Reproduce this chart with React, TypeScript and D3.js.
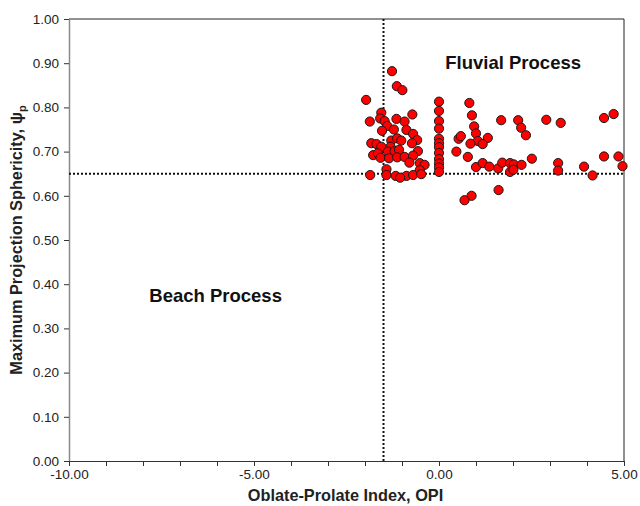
import React, {useEffect, useRef} from "react";
import * as d3 from "d3";

// OPI values (x) and sphericity values (y)
const opiValues = [
    -1.27, -1.14, -0.99, -1.97, -1.56, -0.72, -1.59, -1.87, -1.47, -1.40,
    -1.15, -0.93, -1.22, -1.54, -0.88, -0.70, -0.59, -1.29, -1.13, -1.02,
    -1.83, -0.73, -1.69, -1.56, -1.31, -1.78, -1.65, -1.38, -1.20, -1.08,
    -0.57, -1.58, -1.35, -1.13, -0.93, -0.70, -0.80, -0.52, -0.39, -1.42,
    -0.52, -1.86, -1.42, -1.17, -0.88, -0.70, -0.48, -1.05,
    0, 0, 0, 0, 0, 0, 0, 0, 0, 0, 0, 0,
    0.82, 0.89, 1.68, 2.14, 2.22, 2.35, 2.90, 3.29, 4.46, 4.72,
    0.95, 1.00, 0.53, 0.59, 1.05, 1.32, 0.85, 1.18, 0.47, 0.78,
    2.51, 1.00, 1.18, 1.36, 1.60, 1.71, 1.92, 2.02, 2.23, 1.92,
    2.01, 3.22, 3.22, 3.92, 4.15, 4.46, 4.85, 4.96, 1.61, 0.88, 0.69,
];
const sphericityValues = [
    0.882, 0.848, 0.839, 0.817, 0.788, 0.784, 0.775, 0.768, 0.769, 0.758,
    0.774, 0.768, 0.750, 0.747, 0.749, 0.740, 0.726, 0.725, 0.730, 0.725,
    0.719, 0.719, 0.717, 0.711, 0.711, 0.692, 0.696, 0.700, 0.701, 0.704,
    0.701, 0.686, 0.685, 0.687, 0.688, 0.691, 0.675, 0.674, 0.670, 0.660,
    0.658, 0.647, 0.647, 0.645, 0.645, 0.647, 0.649, 0.641,
    0.813, 0.792, 0.769, 0.752, 0.729, 0.719, 0.710, 0.697, 0.683, 0.673, 0.664, 0.654,
    0.810, 0.782, 0.771, 0.771, 0.754, 0.737, 0.772, 0.765, 0.776, 0.785,
    0.757, 0.741, 0.729, 0.735, 0.724, 0.731, 0.718, 0.717, 0.700, 0.688,
    0.684, 0.665, 0.674, 0.666, 0.662, 0.675, 0.674, 0.671, 0.670, 0.654,
    0.659, 0.674, 0.657, 0.666, 0.646, 0.689, 0.689, 0.667, 0.613, 0.600, 0.590,
];

const xTickValues = [-10, -9, -8, -7, -6, -5, -4, -3, -2, -1, 0, 1, 2, 3, 4, 5];
const xTickLabels = ["-10.00", "", "", "", "", "-5.00", "", "", "", "", "0.00", "", "", "", "", "5.00"];
const yTickValues = [0, 0.1, 0.2, 0.3, 0.4, 0.5, 0.6, 0.7, 0.8, 0.9, 1.0];

const opiThreshold = -1.5;
const sphericityThreshold = 0.65;

const regionLabels = [
    {text: "Fluvial Process", x: 0.17, y: 0.888},
    {text: "Beach Process", x: -7.83, y: 0.359},
];

const App: React.FC = () => {
    const ref = useRef<SVGSVGElement | null>(null);

    useEffect(() => {
        if (!ref.current) return;
        const svg = d3.select(ref.current);
        svg.selectAll("*").remove();

        const margin = {top: 19, right: 16, bottom: 45, left: 69};
        const width = 640;
        const height = 506;
        const innerW = width - margin.left - margin.right;
        const innerH = height - margin.top - margin.bottom;
        const font = "Liberation Sans, Arial, sans-serif";

        const x = d3.scaleLinear().domain([-10, 5]).range([0, innerW]);
        const y = d3.scaleLinear().domain([0, 1]).range([innerH, 0]);

        const g = svg.append("g").attr("transform", `translate(${margin.left},${margin.top})`);

        // top and right border
        g.append("path")
            .attr("d", `M0,0H${innerW}V${innerH}`)
            .attr("fill", "none")
            .attr("stroke", "#222")
            .attr("stroke-width", 1);

        // y axis
        const yAxis = g.append("g")
            .call(d3.axisLeft(y).tickValues(yTickValues).tickSize(5).tickSizeOuter(0).tickFormat(d3.format(".2f")));
        yAxis.select(".domain").attr("stroke", "#8a8a8a").attr("stroke-width", 1.5);
        yAxis.selectAll("line").attr("stroke", "#333");
        yAxis.selectAll("text")
            .attr("font-family", font)
            .attr("font-size", 13.5)
            .attr("fill", "#222")
            .attr("x", -10);

        // x axis
        const xAxis = g.append("g")
            .attr("transform", `translate(0,${innerH})`)
            .call(d3.axisBottom(x).tickValues(xTickValues).tickSize(5).tickSizeOuter(0)
                .tickFormat((_, i) => xTickLabels[i]));
        xAxis.select(".domain").attr("stroke", "#333").attr("stroke-width", 1.2);
        xAxis.selectAll("line").attr("stroke", "#333");
        xAxis.selectAll("text")
            .attr("font-family", font)
            .attr("font-size", 13.5)
            .attr("fill", "#222")
            .attr("y", 8);

        // threshold lines
        g.append("line")
            .attr("x1", 0).attr("x2", innerW)
            .attr("y1", y(sphericityThreshold)).attr("y2", y(sphericityThreshold))
            .attr("stroke", "#111").attr("stroke-width", 2).attr("stroke-dasharray", "2,2");
        g.append("line")
            .attr("x1", x(opiThreshold)).attr("x2", x(opiThreshold))
            .attr("y1", 0).attr("y2", innerH)
            .attr("stroke", "#111").attr("stroke-width", 2).attr("stroke-dasharray", "2,2");

        // points
        const points = opiValues.map((v, i) => ({opi: v, sp: sphericityValues[i]}));
        g.selectAll(".pt")
            .data(points)
            .join("circle")
            .attr("class", "pt")
            .attr("cx", (d) => x(d.opi))
            .attr("cy", (d) => y(d.sp))
            .attr("r", 4.6)
            .attr("fill", "#ff0000")
            .attr("stroke", "#1a1a1a")
            .attr("stroke-width", 1);

        // region labels
        g.selectAll(".region")
            .data(regionLabels)
            .join("text")
            .attr("class", "region")
            .attr("x", (d) => x(d.x))
            .attr("y", (d) => y(d.y))
            .attr("font-family", font)
            .attr("font-size", 18.5)
            .attr("font-weight", "bold")
            .attr("fill", "#111")
            .text((d) => d.text);

        // axis titles
        svg.append("text")
            .attr("x", margin.left + innerW / 2 - 1)
            .attr("y", 501)
            .attr("text-anchor", "middle")
            .attr("font-family", font)
            .attr("font-size", 16.3)
            .attr("font-weight", "bold")
            .attr("fill", "#222")
            .text("Oblate-Prolate Index, OPI");

        const yt = svg.append("text")
            .attr("transform", `translate(22,${margin.top + innerH / 2}) rotate(-90)`)
            .attr("text-anchor", "middle")
            .attr("font-family", font)
            .attr("font-size", 16.3)
            .attr("font-weight", "bold")
            .attr("fill", "#222");
        yt.append("tspan").text("Maximum Projection Sphericity, ψ");
        yt.append("tspan").attr("font-size", 11).attr("dy", 4).text("p");
    }, []);

    return (
        <svg
            ref={ref}
            width={640}
            height={506}
            style={{position: "absolute", left: 0, top: 0, background: "#fff"}}
        ></svg>
    );
};

export default App;
